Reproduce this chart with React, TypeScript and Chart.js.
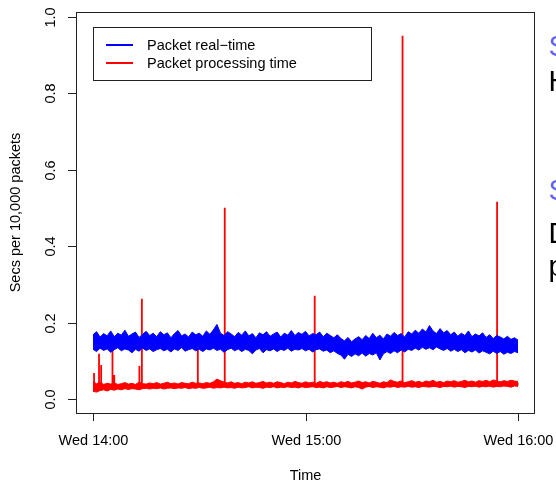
import { useEffect, useRef } from "react";
import { Chart, registerables } from "chart.js";

Chart.register(...registerables);

// ---- data (minutes after Wed 14:00, one value per minute) ----
const blueHigh = [
  0.168, 0.176, 0.162, 0.171, 0.165, 0.178, 0.163, 0.172, 0.167, 0.180,
  0.164, 0.170, 0.175, 0.161, 0.169, 0.177, 0.166, 0.172, 0.163, 0.176,
  0.168, 0.173, 0.160, 0.171, 0.179, 0.165, 0.170, 0.162, 0.175, 0.168,
  0.172, 0.164, 0.178, 0.169, 0.181, 0.195, 0.172, 0.166, 0.176, 0.170,
  0.163, 0.174, 0.167, 0.178, 0.165, 0.171, 0.160, 0.173, 0.168, 0.176,
  0.164, 0.170, 0.175, 0.162, 0.172, 0.167, 0.179, 0.166, 0.174, 0.169,
  0.177, 0.165, 0.171, 0.168, 0.175, 0.163, 0.172, 0.166, 0.160, 0.168,
  0.158, 0.152, 0.161, 0.150, 0.157, 0.163, 0.155, 0.166, 0.158, 0.172,
  0.160, 0.167, 0.157, 0.170, 0.164, 0.174, 0.166, 0.171, 0.162, 0.176,
  0.170, 0.180, 0.172, 0.183, 0.175, 0.192, 0.178, 0.171, 0.184, 0.173,
  0.179, 0.168, 0.175, 0.164, 0.172, 0.166, 0.178, 0.163, 0.170, 0.165,
  0.173, 0.161, 0.168, 0.158, 0.166, 0.162, 0.157, 0.164, 0.156, 0.160, 0.154,
];
const blueLow = [
  0.130, 0.124, 0.133, 0.127, 0.131, 0.122, 0.129, 0.134, 0.126, 0.131,
  0.128, 0.121, 0.130, 0.125, 0.133, 0.127, 0.131, 0.124, 0.129, 0.132,
  0.126, 0.130, 0.123, 0.131, 0.127, 0.134, 0.125, 0.129, 0.132, 0.126,
  0.130, 0.124, 0.131, 0.128, 0.133, 0.127, 0.130, 0.122, 0.129, 0.133,
  0.126, 0.131, 0.124, 0.130, 0.127, 0.118, 0.128, 0.132, 0.121, 0.129,
  0.126, 0.131, 0.124, 0.130, 0.127, 0.133, 0.125, 0.130, 0.128, 0.132,
  0.126, 0.130, 0.123, 0.129, 0.131, 0.125, 0.128, 0.121, 0.126, 0.119,
  0.115, 0.104, 0.117, 0.111, 0.118, 0.113, 0.120, 0.112, 0.119, 0.115,
  0.121, 0.102, 0.118, 0.124, 0.119, 0.126, 0.121, 0.128, 0.123, 0.130,
  0.127, 0.133, 0.128, 0.135, 0.130, 0.134, 0.129, 0.136, 0.131, 0.127,
  0.132, 0.125, 0.130, 0.124, 0.129, 0.121, 0.127, 0.123, 0.128, 0.120,
  0.126, 0.122, 0.118, 0.125, 0.119, 0.124, 0.117, 0.122, 0.119, 0.124, 0.121,
];
const redHigh = [
  0.046, 0.040, 0.044, 0.038, 0.041, 0.039, 0.042, 0.038, 0.040, 0.043,
  0.039, 0.041, 0.038, 0.044, 0.040, 0.039, 0.042, 0.040, 0.043, 0.039,
  0.041, 0.044, 0.040, 0.042, 0.039, 0.043, 0.041, 0.040, 0.044, 0.041,
  0.042, 0.040, 0.043, 0.041, 0.045, 0.052, 0.048, 0.044, 0.042, 0.045,
  0.041, 0.043, 0.040, 0.044, 0.042, 0.045, 0.041, 0.043, 0.046, 0.042,
  0.044, 0.041, 0.045, 0.043, 0.040, 0.044, 0.042, 0.046, 0.043, 0.041,
  0.045, 0.042, 0.044, 0.041, 0.046, 0.043, 0.045, 0.042, 0.044, 0.041,
  0.045, 0.043, 0.046, 0.042, 0.044, 0.047, 0.043, 0.045, 0.042, 0.046,
  0.044, 0.041, 0.045, 0.043, 0.050, 0.046, 0.044, 0.047, 0.043, 0.045,
  0.048, 0.044, 0.046, 0.043, 0.047, 0.045, 0.049, 0.044, 0.046, 0.043,
  0.047, 0.045, 0.048, 0.044, 0.046, 0.049, 0.045, 0.047, 0.044, 0.048,
  0.046, 0.049, 0.045, 0.050, 0.047, 0.045, 0.048, 0.046, 0.049, 0.047, 0.046,
];
const redLow = [
  0.020, 0.018, 0.022, 0.024, 0.021, 0.025, 0.023, 0.026, 0.024, 0.027,
  0.025, 0.027, 0.026, 0.024, 0.027, 0.028, 0.026, 0.028, 0.027, 0.029,
  0.026, 0.028, 0.029, 0.027, 0.029, 0.028, 0.030, 0.027, 0.029, 0.028,
  0.030, 0.028, 0.029, 0.031, 0.028, 0.030, 0.029, 0.031, 0.029, 0.030,
  0.028, 0.031, 0.029, 0.030, 0.032, 0.029, 0.031, 0.030, 0.028, 0.031,
  0.030, 0.032, 0.029, 0.031, 0.030, 0.032, 0.030, 0.031, 0.029, 0.032,
  0.030, 0.031, 0.032, 0.030, 0.031, 0.029, 0.032, 0.030, 0.031, 0.033,
  0.030, 0.032, 0.031, 0.029, 0.032, 0.030, 0.026, 0.031, 0.033, 0.030,
  0.032, 0.031, 0.029, 0.032, 0.031, 0.033, 0.030, 0.032, 0.031, 0.033,
  0.031, 0.032, 0.030, 0.033, 0.032, 0.031, 0.033, 0.032, 0.030, 0.033,
  0.032, 0.034, 0.031, 0.033, 0.032, 0.030, 0.033, 0.032, 0.034, 0.031,
  0.033, 0.032, 0.034, 0.031, 0.033, 0.032, 0.034, 0.033, 0.031, 0.034, 0.033,
];
const spikeMinutes = [0.3, 1.7, 2.3, 5.5, 6.0, 13.1, 13.8, 29.6, 37.2, 62.6, 87.4, 114.1];
const spikePeaks = [0.068, 0.118, 0.089, 0.144, 0.063, 0.086, 0.262, 0.147, 0.5, 0.27, 0.95, 0.516];
const spikeBase = 0.035;
const endPointMinute = [119.6];
const endPointValue = [0.039];

const xTickMinutes = [0, 60, 120];
const xTickLabels = ["Wed 14:00", "Wed 15:00", "Wed 16:00"];
const yTickValues = [0, 0.2, 0.4, 0.6, 0.8, 1.0];
const legendLabels = ["Packet real\u2212time", "Packet processing time"];
const legendColors = ["#0000ff", "#ff0000"];
const sideTexts = [
  { t: "S", c: "#6464f0", y: 56 },
  { t: "H", c: "#000000", y: 91 },
  { t: "S", c: "#6464f0", y: 200 },
  { t: "D", c: "#000000", y: 243 },
  { t: "p", c: "#000000", y: 276 },
];

const FONT = '14.5px "Liberation Sans", Arial, sans-serif';

const rPlot = {
  id: "rPlot",
  afterDraw(chart: any) {
    const { ctx, chartArea: a, scales } = chart;
    const xs = scales.x;
    const ys = scales.y;
    ctx.save();
    ctx.strokeStyle = "#222";
    ctx.lineWidth = 1;
    // box
    ctx.strokeRect(a.left + 0.5, a.top + 0.5, a.right - a.left - 1, a.bottom - a.top);
    ctx.fillStyle = "#000";
    ctx.font = FONT;
    // x ticks
    ctx.textAlign = "center";
    ctx.textBaseline = "middle";
    xTickMinutes.forEach((m, i) => {
      const px = Math.round(xs.getPixelForValue(m)) + 0.5;
      ctx.beginPath();
      ctx.moveTo(px, a.bottom);
      ctx.lineTo(px, a.bottom + 8);
      ctx.stroke();
      ctx.fillText(xTickLabels[i], px, a.bottom + 28);
    });
    ctx.fillText("Time", (a.left + a.right) / 2, a.bottom + 63);
    // y ticks
    yTickValues.forEach((v) => {
      const py = Math.round(ys.getPixelForValue(v)) + 0.5;
      ctx.beginPath();
      ctx.moveTo(a.left - 8, py);
      ctx.lineTo(a.left, py);
      ctx.stroke();
      ctx.save();
      ctx.translate(a.left - 25, py);
      ctx.rotate(-Math.PI / 2);
      ctx.fillText(v.toFixed(1), 0, 0);
      ctx.restore();
    });
    ctx.save();
    ctx.translate(16, (a.top + a.bottom) / 2);
    ctx.rotate(-Math.PI / 2);
    ctx.fillText("Secs per 10,000 packets", 0, 0);
    ctx.restore();
    // legend
    const lx = xs.getPixelForValue(0);
    const ly = a.top + 15;
    ctx.strokeStyle = "#222";
    ctx.strokeRect(Math.round(lx) + 0.5, ly + 0.5, 278, 53);
    ctx.textAlign = "left";
    legendLabels.forEach((lab, i) => {
      const yy = ly + 18 + i * 18;
      ctx.strokeStyle = legendColors[i];
      ctx.lineWidth = 2;
      ctx.beginPath();
      ctx.moveTo(lx + 13, yy);
      ctx.lineTo(lx + 40, yy);
      ctx.stroke();
      ctx.fillStyle = "#000";
      ctx.fillText(lab, lx + 54, yy + 0.5);
    });
    // cut-off slide text at right edge
    ctx.font = '29px "Liberation Sans", Arial, sans-serif';
    ctx.textBaseline = "alphabetic";
    sideTexts.forEach((s) => {
      ctx.fillStyle = s.c;
      ctx.fillText(s.t, 548.5, s.y);
    });
    ctx.restore();
  },
};

export default function App() {
  const ref = useRef<HTMLCanvasElement>(null);
  useEffect(() => {
    const minutes = blueHigh.map((_, i) => i);
    const pts = (arr: number[]) => arr.map((v, i) => ({ x: minutes[i], y: v }));
    const spikeData: { x: number; y: number }[] = [];
    spikeMinutes.forEach((m, i) => {
      spikeData.push({ x: m, y: spikeBase }, { x: m, y: spikePeaks[i] }, { x: m, y: spikeBase });
    });
    const endData = endPointMinute.map((m, i) => ({ x: m, y: endPointValue[i] }));
    const band = (color: string) => ({
      borderColor: color,
      backgroundColor: color,
      borderWidth: 1,
      pointRadius: 0,
      tension: 0,
    });
    const chart = new Chart(ref.current as HTMLCanvasElement, {
      type: "line",
      data: {
        datasets: [
          { label: "blue low", data: pts(blueLow), ...band("#0000ff"), fill: false },
          { label: legendLabels[0], data: pts(blueHigh), ...band("#0000ff"), fill: "-1" },
          { label: "red low", data: pts(redLow), ...band("#ff0000"), fill: false },
          { label: legendLabels[1], data: pts(redHigh), ...band("#ff0000"), fill: "-1" },
          {
            label: "spikes",
            data: spikeData,
            borderColor: "#ff0000",
            borderWidth: 1.8,
            pointRadius: 0,
            fill: false,
            tension: 0,
          },
          {
            label: "end",
            data: endData,
            showLine: false,
            pointStyle: "rect",
            pointRadius: 2.5,
            backgroundColor: "#000",
            borderColor: "#000",
            borderWidth: 0,
          },
        ] as any,
      },
      options: {
        responsive: false,
        animation: false,
        devicePixelRatio: 1,
        layout: { padding: { left: 76, top: 12, right: 21, bottom: 69 } },
        plugins: { legend: { display: false }, tooltip: { enabled: false } },
        scales: {
          x: { type: "linear", display: false, min: -4.8, max: 124.8 },
          y: { type: "linear", display: false, min: -0.0366, max: 1.0118 },
        },
      },
      plugins: [rPlot],
    });
    return () => chart.destroy();
  }, []);
  return (
    <div style={{ position: "fixed", left: 0, top: 0, width: 556, height: 482, background: "#fff" }}>
      <canvas ref={ref} width={556} height={482} style={{ display: "block" }} />
    </div>
  );
}
